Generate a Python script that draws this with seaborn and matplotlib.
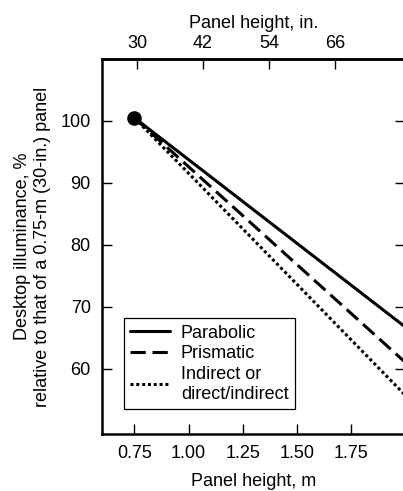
import pandas as pd
import matplotlib
matplotlib.use('Agg')
import matplotlib.pyplot as plt
import seaborn as sns

sns.set_style('ticks')
plt.rcParams['font.family'] = ['Liberation Sans', 'DejaVu Sans']
plt.rcParams['text.color'] = 'black'
plt.rcParams['axes.labelcolor'] = 'black'
plt.rcParams['xtick.color'] = 'black'
plt.rcParams['ytick.color'] = 'black'
plt.rcParams['axes.edgecolor'] = 'black'

# panel height (m) and relative desktop illuminance (%)
height_m = [0.75, 2.0]
parabolic = [100.5, 66.8]
prismatic = [100.5, 61.1]
indirect = [100.5, 55.8]
series_names = ['Parabolic', 'Prismatic', 'Indirect or\ndirect/indirect']
x_ticks = [0.75, 1.00, 1.25, 1.50, 1.75]
top_ticks = [30, 42, 54, 66]
y_ticks = [60, 70, 80, 90, 100]

df = pd.DataFrame({
    'height': height_m * 3,
    'value': parabolic + prismatic + indirect,
    'type': [series_names[0]] * 2 + [series_names[1]] * 2 + [series_names[2]] * 2,
})

fig = plt.figure(figsize=(4.03, 4.91), dpi=100)
ax = fig.add_axes([0.253, 0.116, 0.752, 0.764])

styles = ['-', (0, (5, 2.2)), (0, (1, 0.9))]
for name, ls in zip(series_names, styles):
    sns.lineplot(data=df[df['type'] == name], x='height', y='value', ax=ax,
                 color='black', linewidth=2.2, linestyle=ls, label=name)

ax.plot(height_m[0], parabolic[0], 'o', color='black', markersize=9.5, zorder=5)

ax.set_xlim(0.6, 2.0)
ax.set_ylim(49.5, 110)
ax.set_xticks(x_ticks)
ax.set_xticklabels(['%.2f' % t for t in x_ticks])
ax.set_yticks(y_ticks)
ax.tick_params(axis='both', direction='in', length=7, width=1, labelsize=13,
               right=True, top=False, pad=8)
for s in ['left', 'bottom', 'top']:
    ax.spines[s].set_linewidth(1.8)
ax.spines['right'].set_visible(False)

ax.set_xlabel('Panel height, m', fontsize=13, labelpad=8)
ax.set_ylabel('Desktop illuminance, %\nrelative to that of a 0.75-m (30-in.) panel',
              fontsize=13, labelpad=7)

sec = ax.secondary_xaxis('top', functions=(lambda m: m / 0.0254, lambda i: i * 0.0254))
sec.set_xticks(top_ticks)
sec.tick_params(direction='in', length=7, width=1, labelsize=13, pad=5)
sec.spines['top'].set_linewidth(1.8)
sec.set_xlabel('Panel height, in.', fontsize=13, labelpad=5)

leg = ax.legend(loc='lower left', bbox_to_anchor=(0.073, 0.067), borderaxespad=0,
                fontsize=13, fancybox=False, edgecolor='black', framealpha=1,
                handlelength=2.2, handletextpad=0.6, labelspacing=0.2,
                borderpad=0.35)
leg.get_frame().set_linewidth(0.9)

fig.savefig('out.png', dpi=100)
